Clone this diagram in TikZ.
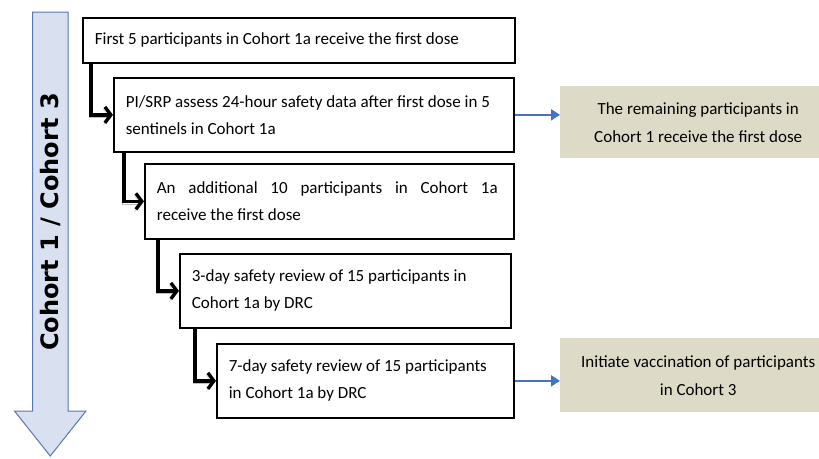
\documentclass[tikz,border=0pt]{standalone}
\usepackage{fontspec}
\setmainfont{Carlito}
\newfontfamily\bandfont{DejaVu Sans}
\usetikzlibrary{arrows.meta}
\definecolor{bandfill}{HTML}{D9E0F0}
\definecolor{bandline}{HTML}{5577B3}
\definecolor{notefill}{HTML}{DDDBC8}
\definecolor{linkblue}{HTML}{4472C4}

\begin{document}
\begin{tikzpicture}[x=1pt,y=-1pt,
  % the font's own word spacing, not the fixed one set by align
  fontspace/.style={execute at begin node={\spaceskip=0pt\xspaceskip=0pt\relax}},
  stepbox/.style={draw, line width=1.7pt, anchor=north west, align=left, fontspace,
    inner xsep=12pt, inner ysep=0pt, font=\fontsize{17}{27}\selectfont},
  notebox/.style={fill=notefill, anchor=north west, align=center, fontspace,
    inner sep=0pt, minimum width=276pt, font=\fontsize{17}{28}\selectfont},
  elbow/.style={line width=3.4pt, -{Straight Barb[length=6pt,width=16pt]},
    preaction={draw=black!25, transform canvas={shift={(-1.5pt,-2.5pt)}}}},
  link/.style={linkblue, line width=2.2pt, -{Triangle[length=9pt,width=11pt]}}]

\useasboundingbox (0,0) rectangle (819,458);

% timeline band on the left
\draw[fill=bandfill, draw=bandline, line width=1pt]
  (32.5,12) -- (68,12) -- (68,411) -- (86,411) -- (50.25,456) -- (14.5,411) -- (32.5,411) -- cycle;
\node[rotate=90, font=\bandfont\bfseries\fontsize{24}{24}\selectfont] (bandlabel) at (50.25,222) {Cohort 1 / Cohort 3};

% staircase of steps
\node[stepbox, text width=408pt, minimum height=45pt] (b1) at (82,17)
  {First 5 participants in Cohort 1a receive the first dose};
\node[stepbox, text width=376pt, minimum height=74pt] (b2) at (113,77)
  {PI/SRP assess 24-hour safety data after first dose in 5\\sentinels in Cohort 1a};
\node[stepbox, text width=345pt, minimum height=75pt] (b3) at (144,163)
  {\makebox[341pt][s]{An additional 10 participants in Cohort 1a}\\receive the first dose};
\node[stepbox, text width=307pt, minimum height=74pt] (b4) at (179,253)
  {3-day safety review of 15 participants in\\Cohort 1a by DRC};
\node[stepbox, text width=273pt, minimum height=74pt] (b5) at (216,343)
  {7-day safety review of 15 participants\\in Cohort 1a by DRC};

% outcome notes
\node[notebox, minimum height=72pt] (r1) at (560,86)
  {The remaining participants in\\Cohort 1 receive the first dose};
\node[notebox, minimum height=74pt] (r2) at (560,338)
  {Initiate vaccination of participants\\in Cohort 3};

% elbow connectors between steps
\draw[elbow] ([xshift=9pt]b1.south west) |- (b2.west);
\draw[elbow] ([xshift=11pt]b2.south west) |- (b3.west);
\draw[elbow] ([xshift=14pt]b3.south west) |- (b4.west);
\draw[elbow] ([xshift=16pt]b4.south west) |- (b5.west);

% links to outcomes
\draw[link] (b2.east) -- (b2.east -| r1.west);
\draw[link] (b5.east) -- (b5.east -| r2.west);
\end{tikzpicture}
\end{document}
